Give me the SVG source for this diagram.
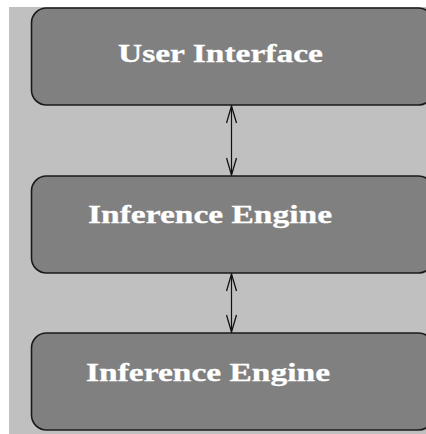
<svg xmlns="http://www.w3.org/2000/svg" width="426" height="434" viewBox="0 0 426 434">
<defs>
<style>
.box{fill:#808080;stroke:#1a1a1a;stroke-width:1.6}
.lbl{font-family:"Liberation Serif","Times New Roman",serif;font-weight:bold;font-size:25px;fill:#ffffff;stroke:#ffffff;stroke-width:0.3}
.conn{stroke:#111;stroke-width:1.2;fill:none}
</style>
<marker id="ah" viewBox="0 0 20 12" refX="19" refY="6" markerWidth="20" markerHeight="12" markerUnits="userSpaceOnUse" orient="auto-start-reverse">
<path d="M2,1 L19,6 L2,11" fill="none" stroke="#111" stroke-width="1.3"/>
</marker>
</defs>
<rect x="0" y="0" width="426" height="434" fill="#ffffff"/>
<rect x="9" y="7" width="417" height="427" fill="#c0c0c0"/>
<g id="connectors">
<line class="conn" x1="231.5" y1="106" x2="231.5" y2="175" marker-start="url(#ah)" marker-end="url(#ah)"/>
<line class="conn" x1="231.5" y1="274" x2="231.5" y2="332" marker-start="url(#ah)" marker-end="url(#ah)"/>
</g>
<g id="user-interface">
<rect class="box" x="31.5" y="8" width="402" height="97" rx="15" ry="15"/>
<text class="lbl" x="118" y="62" textLength="205" lengthAdjust="spacingAndGlyphs">User Interface</text>
</g>
<g id="inference-engine-1">
<rect class="box" x="31.5" y="176" width="402" height="97" rx="15" ry="15"/>
<text class="lbl" x="88" y="223" textLength="244" lengthAdjust="spacingAndGlyphs">Inference Engine</text>
</g>
<g id="inference-engine-2">
<rect class="box" x="31.5" y="333" width="402" height="97" rx="15" ry="15"/>
<text class="lbl" x="86" y="381" textLength="244" lengthAdjust="spacingAndGlyphs">Inference Engine</text>
</g>
</svg>
